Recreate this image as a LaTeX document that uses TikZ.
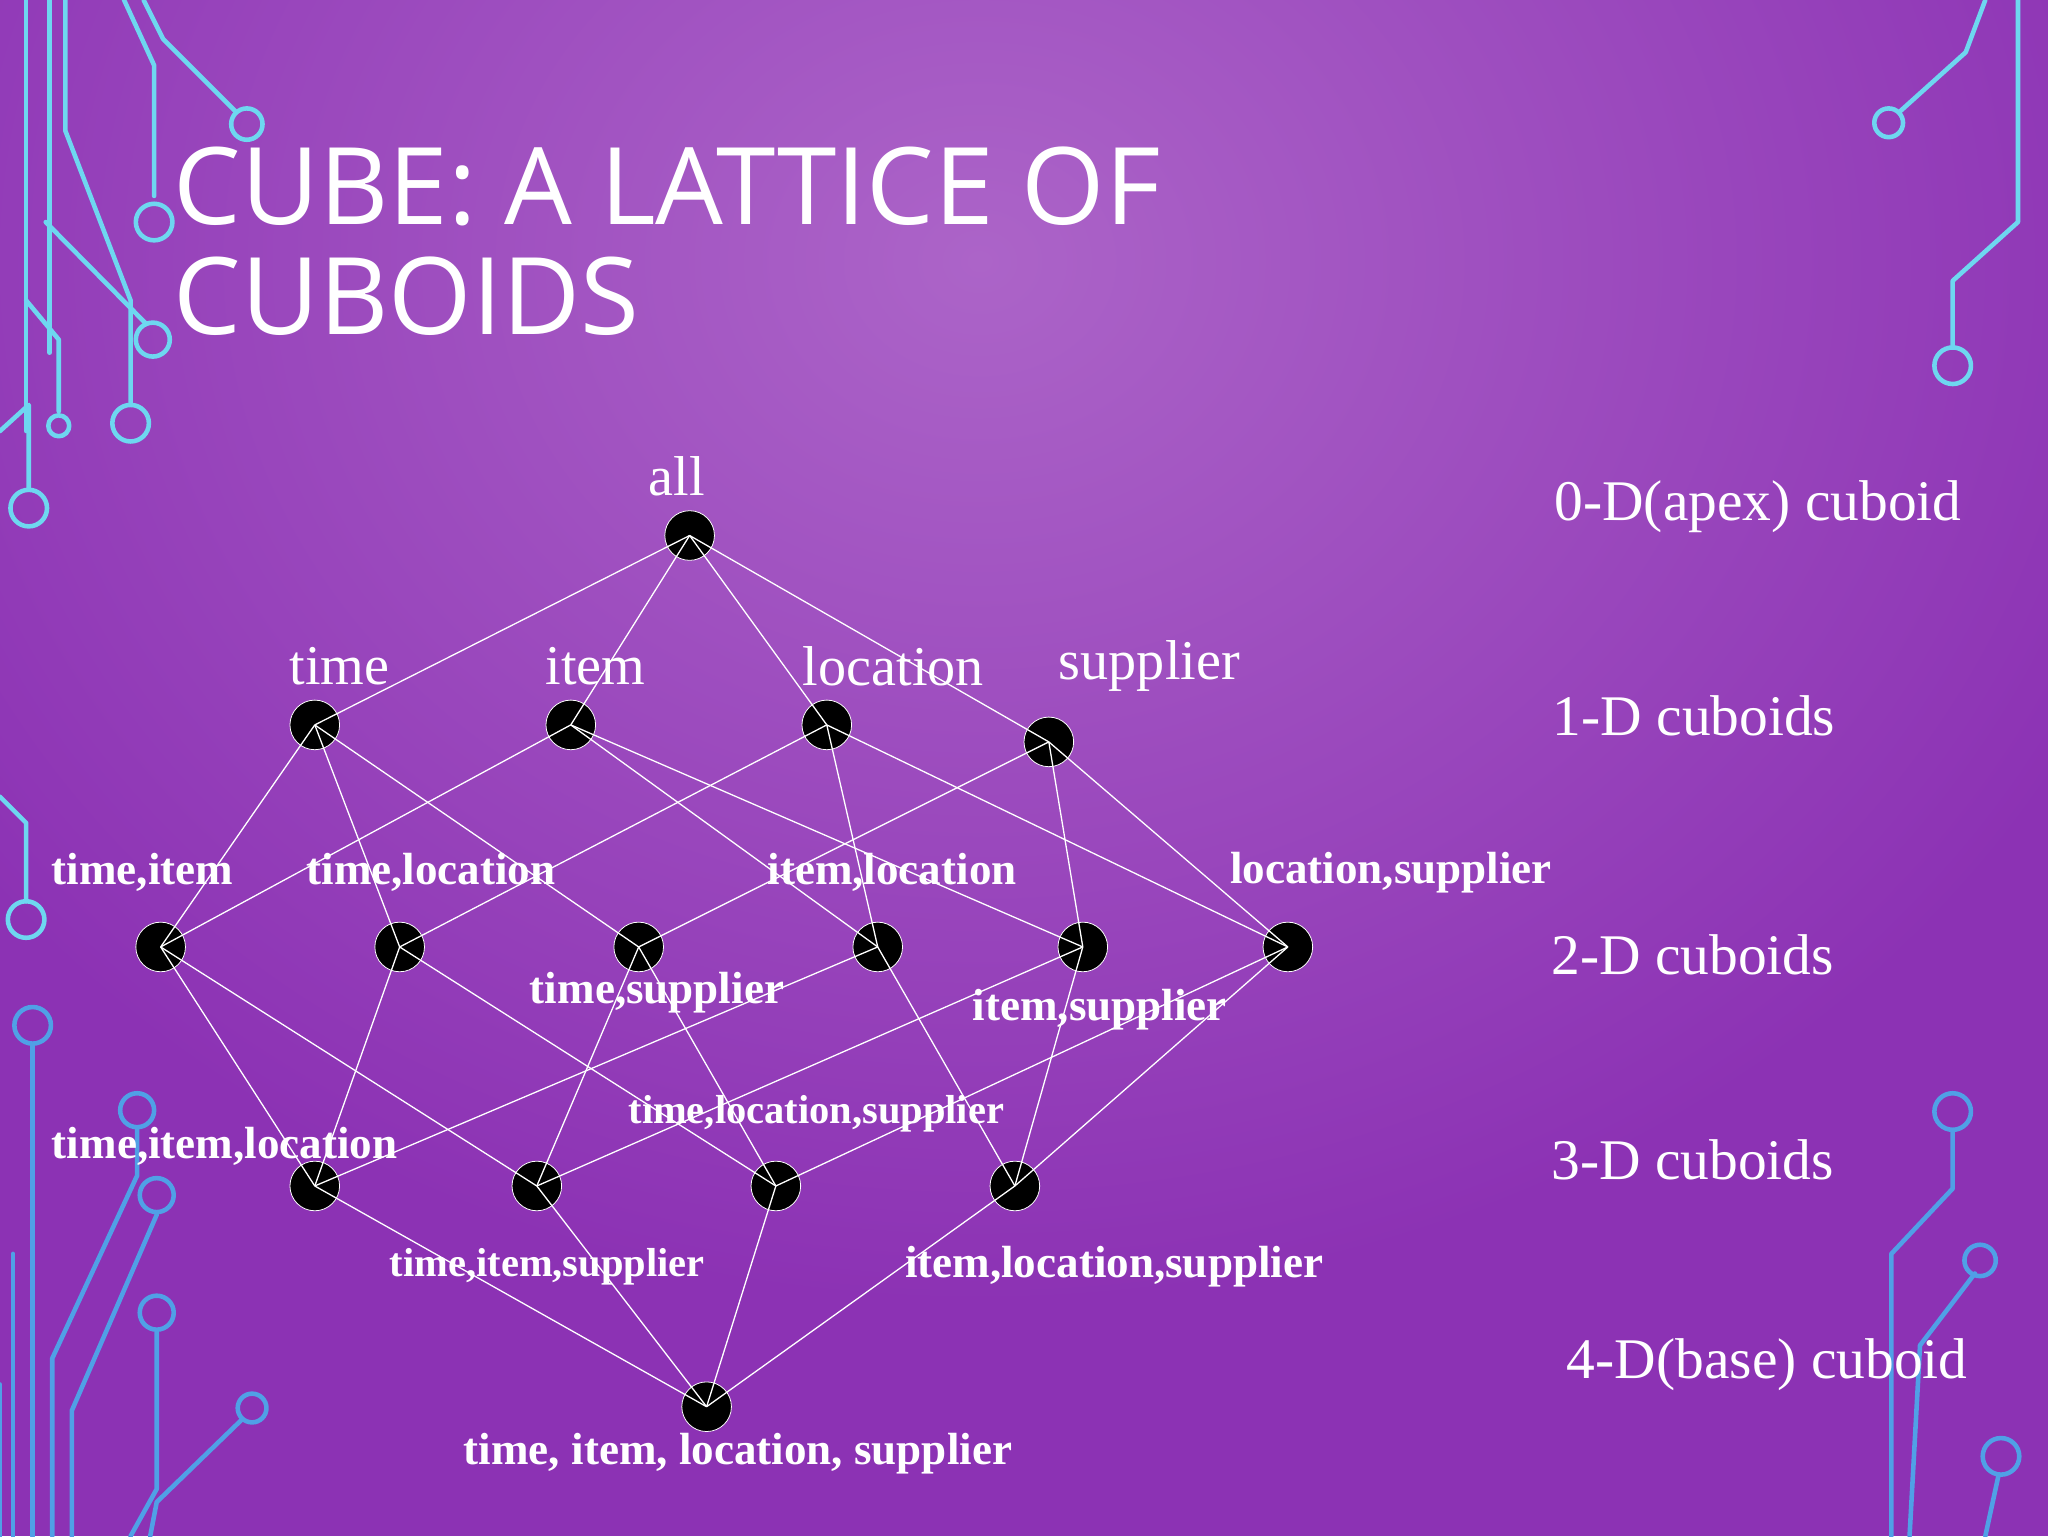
\documentclass[tikz,border=0pt]{standalone}
\usepackage{fontspec}
\setmainfont{Liberation Serif}
\newfontfamily\titlefont{Open Sans}
\begin{document}
\begin{tikzpicture}[x=1pt,y=-1pt,
  cub/.style={circle,fill=black,draw=white,line width=0.6pt,minimum size=38pt,inner sep=0pt},
  edge/.style={white,line width=1pt},
  lab/.style={white,font=\fontsize{43}{47}\selectfont},
  rlab/.style={white,font=\fontsize{44}{48}\selectfont},
  blab/.style={white,font=\fontsize{34.5}{38}\selectfont\bfseries},
  circ/.style={line width=3.5pt,line cap=round,line join=round}]
\definecolor{bgA}{RGB}{172,100,200}
\definecolor{bgB}{RGB}{140,50,180}
\definecolor{cyanA}{RGB}{110,215,240}
\definecolor{blueA}{RGB}{80,160,230}
\useasboundingbox (0,0) rectangle (1568,1176);
\fill[bgB] (0,0) rectangle (1568,1176);
\shade[inner color=bgA,outer color=bgB] (-200,-600) rectangle (1700,1000);
% decorations
\begin{scope}[cyanA,circ]
\draw (20,0)--(20,330); \draw (38,0)--(38,270);
\draw (50,0)--(50,100)--(100,230)--(100,310); \draw (100,324) circle (14);
\draw (95,0)--(118,50)--(118,150); \draw (118,170) circle (14);
\draw (110,0)--(125,30)--(180,85); \draw (189,95) circle (12);
\draw (35,170)--(112,248); \draw (117,260) circle (13);
\draw (20,230)--(45,260)--(45,315); \draw (45,326) circle (8);
\draw (0,330)--(22,310)--(22,375); \draw (22,389) circle (14);
\draw (0,610)--(20,630)--(20,690); \draw (20,704) circle (14);
\draw (1520,0)--(1505,40)--(1455,85); \draw (1446,94) circle (11);
\draw (1545,0)--(1545,170)--(1495,215)--(1495,265); \draw (1495,280) circle (14);
\end{scope}
\begin{scope}[blueA,circ]
\draw (25,800)--(25,1176); \draw (25,785) circle (14);
\draw (10,960)--(10,1176);
\draw (0,1060)--(0,1176);
\draw (105,865)--(105,900)--(40,1040)--(40,1176); \draw (105,850) circle (13);
\draw (120,930)--(55,1080)--(55,1176); \draw (120,915) circle (13);
\draw (120,1020)--(120,1140)--(100,1176); \draw (120,1005) circle (13);
\draw (185,1087)--(120,1150)--(115,1176); \draw (193,1078) circle (11);
\draw (1495,866)--(1495,910)--(1448,960)--(1448,1176); \draw (1495,851) circle (14);
\draw (1512,975)--(1470,1030)--(1462,1176); \draw (1516,965) circle (12);
\draw (1530,1130)--(1520,1176); \draw (1532,1115) circle (14);
\end{scope}
% title
\node[white,anchor=base west,inner sep=0pt,font=\titlefont\fontsize{82}{86}\selectfont] (t1) at (133,172) {CUBE: A LATTICE OF};
\node[white,anchor=base west,inner sep=0pt,font=\titlefont\fontsize{82}{86}\selectfont] (t2) at (133,256) {CUBOIDS};
% nodes
\node[cub] (all) at (528,410) {};
\node[cub] (t) at (241,555) {}; \node[cub] (i) at (437,555) {};
\node[cub] (l) at (633,555) {}; \node[cub] (s) at (803,568) {};
\node[cub] (ti) at (123,725) {}; \node[cub] (tl) at (306,725) {};
\node[cub] (ts) at (489,725) {}; \node[cub] (il) at (672,725) {};
\node[cub] (is) at (829,725) {}; \node[cub] (ls) at (986,725) {};
\node[cub] (til) at (241,908) {}; \node[cub] (tis) at (411,908) {};
\node[cub] (tls) at (594,908) {}; \node[cub] (ils) at (777,908) {};
\node[cub] (base) at (541,1077) {};
% edges
\foreach \a/\b in {all/t,all/i,all/l,all/s,
 t/ti,t/tl,t/ts,i/ti,i/il,i/is,l/tl,l/il,l/ls,s/ts,s/is,s/ls,
 ti/til,ti/tis,tl/til,tl/tls,ts/tis,ts/tls,il/til,il/ils,is/tis,is/ils,ls/tls,ls/ils,
 til/base,tis/base,tls/base,ils/base}
 \draw[edge] (\a.center)--(\b.center);
% labels
\node[lab] (Lall) at (518,365) {all};
\node[lab] (Lt) at (260,510) {time};
\node[lab] (Li) at (456,510) {item};
\node[lab] (Ll) at (684,510) {location};
\node[lab] (Ls) at (880,510) {supplier};
\node[blab] (Lti) at (109,668) {time,item};
\node[blab] (Ltl) at (330,668) {time,location};
\node[blab] (Lil) at (683,668) {item,location};
\node[blab] (Lls) at (1065,668) {location,supplier};
\node[blab] (Lts) at (503,760) {time,supplier};
\node[blab] (Lis) at (842,773) {item,supplier};
\node[blab,font=\fontsize{31}{34}\selectfont\bfseries] (Ltls) at (625,853) {time,location,supplier};
\node[blab] (Ltil) at (172,878) {time,item,location};
\node[blab,font=\fontsize{31}{34}\selectfont\bfseries] (Ltis) at (419,970) {time,item,supplier};
\node[blab] (Lils) at (853,970) {item,location,supplier};
\node[blab] (Lbase) at (565,1113) {time, item, location, supplier};
\node[rlab] (R0) at (1346,388) {0-D(apex) cuboid};
\node[rlab] (R1) at (1297,548) {1-D cuboids};
\node[rlab] (R2) at (1296,731) {2-D cuboids};
\node[rlab] (R3) at (1296,888) {3-D cuboids};
\node[rlab] (R4) at (1353,1045) {4-D(base) cuboid};
\end{tikzpicture}
\end{document}
